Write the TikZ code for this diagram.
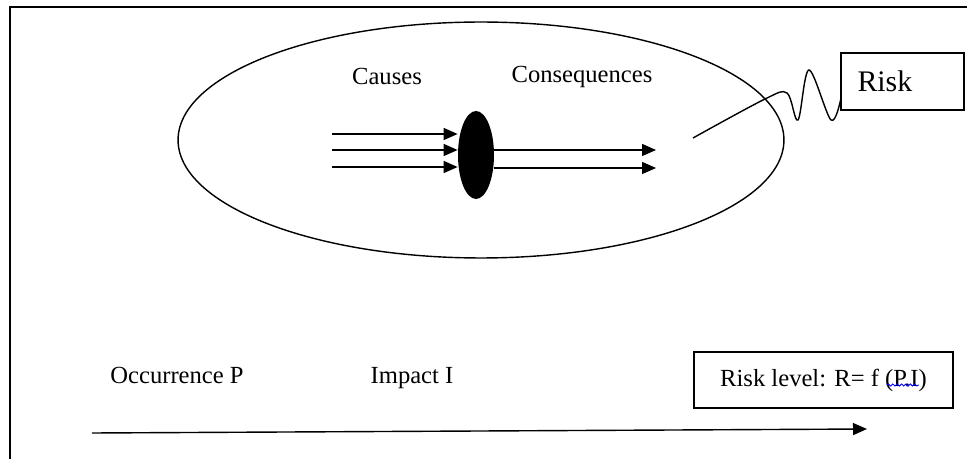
\documentclass[tikz,border=0pt]{standalone}
\usepackage{fontspec}
\setmainfont{Liberation Serif}
\usetikzlibrary{shapes.geometric,arrows.meta,decorations.pathmorphing}
\begin{document}
\begin{tikzpicture}[x=0.02cm,y=-0.02cm,
  lbl/.style={font=\fontsize{14pt}{16pt}\selectfont},
  arr/.style={line width=0.8pt, -{Triangle[length=0.28cm,width=0.24cm]}},
  box/.style={draw, line width=0.9pt, rectangle, lbl}]
\useasboundingbox (0,0) rectangle (967,459);
\draw[line width=1.2pt] (10,459) -- (10,7) -- (967,7);
\node[draw, ellipse, line width=0.8pt, minimum width=12.12cm, minimum height=4.72cm, inner sep=0pt] (scope) at (481,140) {};
\node[ellipse, fill=black, minimum width=0.72cm, minimum height=1.76cm, inner sep=0pt] (event) at (476,155) {};
\node[lbl, anchor=base] (causes) at (387,85) {Causes};
\node[lbl, anchor=base] (conseq) at (582,83) {Consequences};
\coordinate (c1) at (332,134);
\coordinate (c2) at (332,150);
\coordinate (c3) at (332,167);
\coordinate (k1) at (656,150);
\coordinate (k2) at (656,168);
\draw[arr] (c1) -- (c1 -| event.west);
\draw[arr] (c2) -- (c2 -| event.west);
\draw[arr] (c3) -- (c3 -| event.west);
\draw[arr] (event.east |- k1) -- (k1);
\draw[arr] (event.east |- k2) -- (k2);
\node[box, font=\fontsize{17pt}{19pt}\selectfont, minimum width=2.46cm, minimum height=1.14cm, text width=1.8cm, inner xsep=0.32cm, align=left] (risk) at (902.5,81.5) {Risk};
\coordinate (s0) at (693,138);
\draw[line width=0.8pt] plot[smooth, tension=0.55] coordinates {(s0) (765,99) (787,93) (798,120) (809,70) (831,120) (841,98)};
\node[lbl, anchor=base] (occ) at (177,383) {Occurrence P};
\node[lbl, anchor=base] (imp) at (412,383) {Impact I};
\node[box, minimum width=5.18cm, minimum height=1.12cm] (level) at (823.5,380) {Risk level: R= f (P.I)};
\draw[blue, line width=0.5pt, decorate, decoration={snake, amplitude=0.6pt, segment length=2.5pt}] (887,385) -- (919,385);
\coordinate (axL) at (92,433);
\coordinate (axR) at (867,429);
\draw[arr] (axL) -- (axR);
\end{tikzpicture}
\end{document}
